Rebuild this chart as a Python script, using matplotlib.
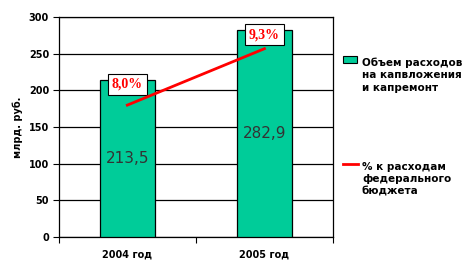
import matplotlib
matplotlib.use('Agg')
import matplotlib.pyplot as plt
from matplotlib.patches import Rectangle
from matplotlib.lines import Line2D

years = ['2004 год', '2005 год']
spending = [213.5, 282.9]
share = [8.0, 9.3]
spending_labels = ['213,5', '282,9']
share_labels = ['8,0%', '9,3%']

bar_color = '#00CC99'

fig = plt.figure(figsize=(4.7, 2.7), dpi=100)
ax = fig.add_axes([0.125, 0.122, 0.5835, 0.815])

x = [0, 1]
ax.bar(x, spending, width=0.4, color=bar_color, edgecolor='black', linewidth=0.9, zorder=3)
for xi, v, lab in zip(x, spending, spending_labels):
    ax.text(xi, v / 2, lab, ha='center', va='center', fontsize=11, color='#333333', zorder=4)

ax.set_xlim(-0.5, 1.5)
ax.set_ylim(0, 300)
ax.set_yticks(range(0, 301, 50))
ax.set_yticklabels([str(v) for v in range(0, 301, 50)], fontsize=7, fontweight='bold')
ax.grid(axis='y', color='black', linewidth=0.9, zorder=1)
ax.set_xticks([-0.5, 0.5, 1.5])
ax.set_xticklabels([])
ax.set_xticks(x, minor=True)
ax.set_xticklabels(years, minor=True, fontsize=7, fontweight='bold')
ax.tick_params(axis='x', which='minor', length=0, pad=9)
ax.tick_params(axis='x', which='major', length=4, direction='out')
ax.tick_params(axis='y', length=4, direction='out', pad=3)
for s in ax.spines.values():
    s.set_linewidth(0.9)
ax.set_ylabel('млрд. руб.', fontsize=7, fontweight='bold', labelpad=4)

# percentage line on hidden secondary axis
ax2 = ax.twinx()
ax2.set_ylim(4.96, 10.03)
ax2.plot(x, share, color='red', linewidth=2, zorder=5)
ax2.axis('off')
offsets = [15, 10]
for xi, v, lab, off in zip(x, share, share_labels, offsets):
    ax2.annotate(lab, (xi, v), xytext=(0, off), textcoords='offset points',
                 ha='center', va='center', fontsize=10, fontweight='bold',
                 family='Liberation Serif', color='red',
                 bbox=dict(boxstyle='square,pad=0.3', fc='white', ec='black', lw=0.8))

# legend
fig.patches.append(Rectangle((343 / 470, 1 - 63 / 270), 14 / 470, 7 / 270,
                             transform=fig.transFigure, facecolor=bar_color,
                             edgecolor='black', linewidth=0.8))
fig.text(362 / 470, 1 - 75 / 270, 'Объем расходов\nна капвложения\nи капремонт',
         fontsize=7.5, fontweight='bold', va='center', ha='left', linespacing=1.3)
fig.lines.append(Line2D([343 / 470, 358 / 470], [1 - 164 / 270, 1 - 164 / 270],
                        transform=fig.transFigure, color='red', linewidth=2))
fig.text(362 / 470, 1 - 179 / 270, '% к расходам\nфедерального\nбюджета',
         fontsize=7.5, fontweight='bold', va='center', ha='left', linespacing=1.3)

plt.savefig('out.png', dpi=100)
